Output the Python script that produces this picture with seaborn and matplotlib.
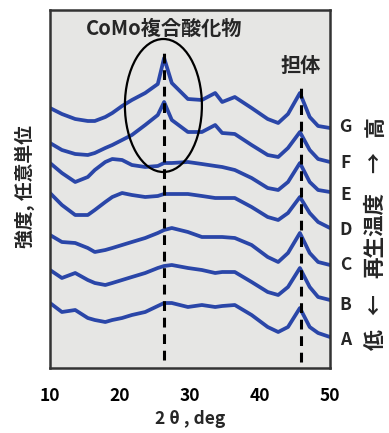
import matplotlib
matplotlib.use("Agg")
import matplotlib.pyplot as plt
from matplotlib.patches import Ellipse
import seaborn as sns
import pandas as pd

# 2θ positions (deg)
two_theta = [10, 11.7, 13.6, 15.4, 16.4, 17.9, 18.9, 20.3, 21.7, 23.6, 25.4, 26.3, 27.4,
             29.7, 31.7, 33.6, 34.6, 36.4, 38.8, 41.1, 42.6, 44.0, 45.7, 47.1, 48.3, 50]

# stacked intensities (arbitrary units, offset)
int_G = [260, 254, 249, 247, 247, 251, 255, 262, 268, 275, 284, 310, 285,
         269, 268, 275, 266, 271, 260, 249, 245, 254, 275, 251, 242, 240]
int_F = [225, 218, 214, 213, 215, 220, 223, 228, 233, 243, 253, 266, 248,
         236, 236, 243, 235, 234, 223, 213, 211, 220, 236, 218, 209, 206]
int_E = [205, 195, 186, 191, 198, 206, 209, 208, 203, 201, 202, 205, 205,
         206, 204, 202, 201, 198, 190, 180, 178, 186, 205, 186, 178, 176]
int_D = [175, 163, 153, 153, 158, 166, 171, 175, 173, 171, 172, 174, 174,
         174, 172, 170, 170, 170, 161, 151, 148, 155, 171, 155, 146, 140]
int_C = [133, 126, 125, 120, 116, 118, 120, 123, 126, 130, 135, 138, 140,
         136, 131, 131, 131, 130, 123, 111, 106, 115, 135, 115, 106, 103]
int_B = [98, 90, 95, 88, 85, 83, 85, 88, 91, 95, 100, 102, 103,
         100, 98, 95, 96, 96, 86, 76, 73, 81, 100, 81, 71, 68]
int_A = [65, 56, 58, 50, 48, 46, 48, 50, 53, 56, 62, 65, 65,
         61, 63, 61, 62, 63, 53, 41, 36, 41, 60, 41, 35, 31]

sample_names = ["A", "B", "C", "D", "E", "F", "G"]
x_ticks = [10, 20, 30, 40, 50]
peak_como = 26.3
peak_support = 45.8

series = {"A": int_A, "B": int_B, "C": int_C, "D": int_D,
          "E": int_E, "F": int_F, "G": int_G}
rows = []
for name in sample_names:
    for x, y in zip(two_theta, series[name]):
        rows.append({"two_theta": x, "intensity": y, "sample": name})
df = pd.DataFrame(rows)

sns.set_style("white")
plt.rcParams["font.family"] = ["Noto Sans CJK JP", "DejaVu Sans"]
plt.rcParams["font.weight"] = "bold"

W, H = 389, 433
fig = plt.figure(figsize=(W / 100, H / 100), dpi=100)
ax = fig.add_axes([50 / W, (H - 368) / H, 280 / W, 358 / H])
ax.set_facecolor("#e6e6e4")

line_color = "#2a46a8"
sns.lineplot(data=df, x="two_theta", y="intensity", hue="sample",
             palette=[line_color] * len(sample_names), estimator=None,
             sort=False, legend=False, linewidth=2.7, ax=ax)

ax.set_xlim(10, 50)
ax.set_ylim(0, 358)

ax.vlines(peak_como, 8, 321, colors="black", linestyles=(0, (3.2, 2.2)), linewidth=2.2, zorder=3)
ax.vlines(peak_support, 6, 281, colors="black", linestyles=(0, (3.2, 2.2)), linewidth=2.2, zorder=3)

ell = Ellipse((26.2, 262.5), width=11.0, height=133, fill=False,
              edgecolor="black", linewidth=1.6, zorder=4)
ax.add_patch(ell)

ax.text(26.3, 340, "CoMo複合酸化物", ha="center", va="center", fontsize=14.5, fontweight="bold")
ax.text(45.8, 303, "担体", ha="center", va="center", fontsize=14.5, fontweight="bold")

label_y = {"G": 241, "F": 205, "E": 173, "D": 138, "C": 103, "B": 63, "A": 28}
for name in sample_names:
    ax.text(52.2, label_y[name], name, ha="center", va="center", fontsize=12.5,
            fontweight="bold", clip_on=False)

ax.set_xticks(x_ticks)
ax.set_xticklabels([str(t) for t in x_ticks], fontsize=12.5, fontweight="bold")
ax.set_yticks([])
ax.tick_params(axis="x", direction="in", length=6, width=1.5, pad=14, colors="#222222",
               labelcolor="black")
for sp in ax.spines.values():
    sp.set_linewidth(1.8)
    sp.set_color("#333333")

ax.set_xlabel("2 θ , deg", fontsize=12.5, fontweight="bold", labelpad=3)
ax.set_ylabel("")

fig.text(25 / W, 1 - 187 / H, "強度, 任意単位", rotation=90, ha="center", va="center",
         fontsize=13.5, fontweight="bold")

# right-hand vertical annotation: 低 ← 再生温度 → 高
rx = 375 / W
fig.text(rx, 1 - 127 / H, "高", rotation=90, ha="center", va="center", fontsize=15, fontweight="bold")
fig.text(rx, 1 - 163 / H, "→", rotation=90, ha="center", va="center", fontsize=15, fontweight="bold")
fig.text(rx, 1 - 235 / H, "再生温度", rotation=90, ha="center", va="center", fontsize=15.5, fontweight="bold")
fig.text(rx, 1 - 305 / H, "←", rotation=90, ha="center", va="center", fontsize=15, fontweight="bold")
fig.text(rx, 1 - 340 / H, "低", rotation=90, ha="center", va="center", fontsize=15, fontweight="bold")

fig.savefig("out.png", dpi=100, facecolor="white")
